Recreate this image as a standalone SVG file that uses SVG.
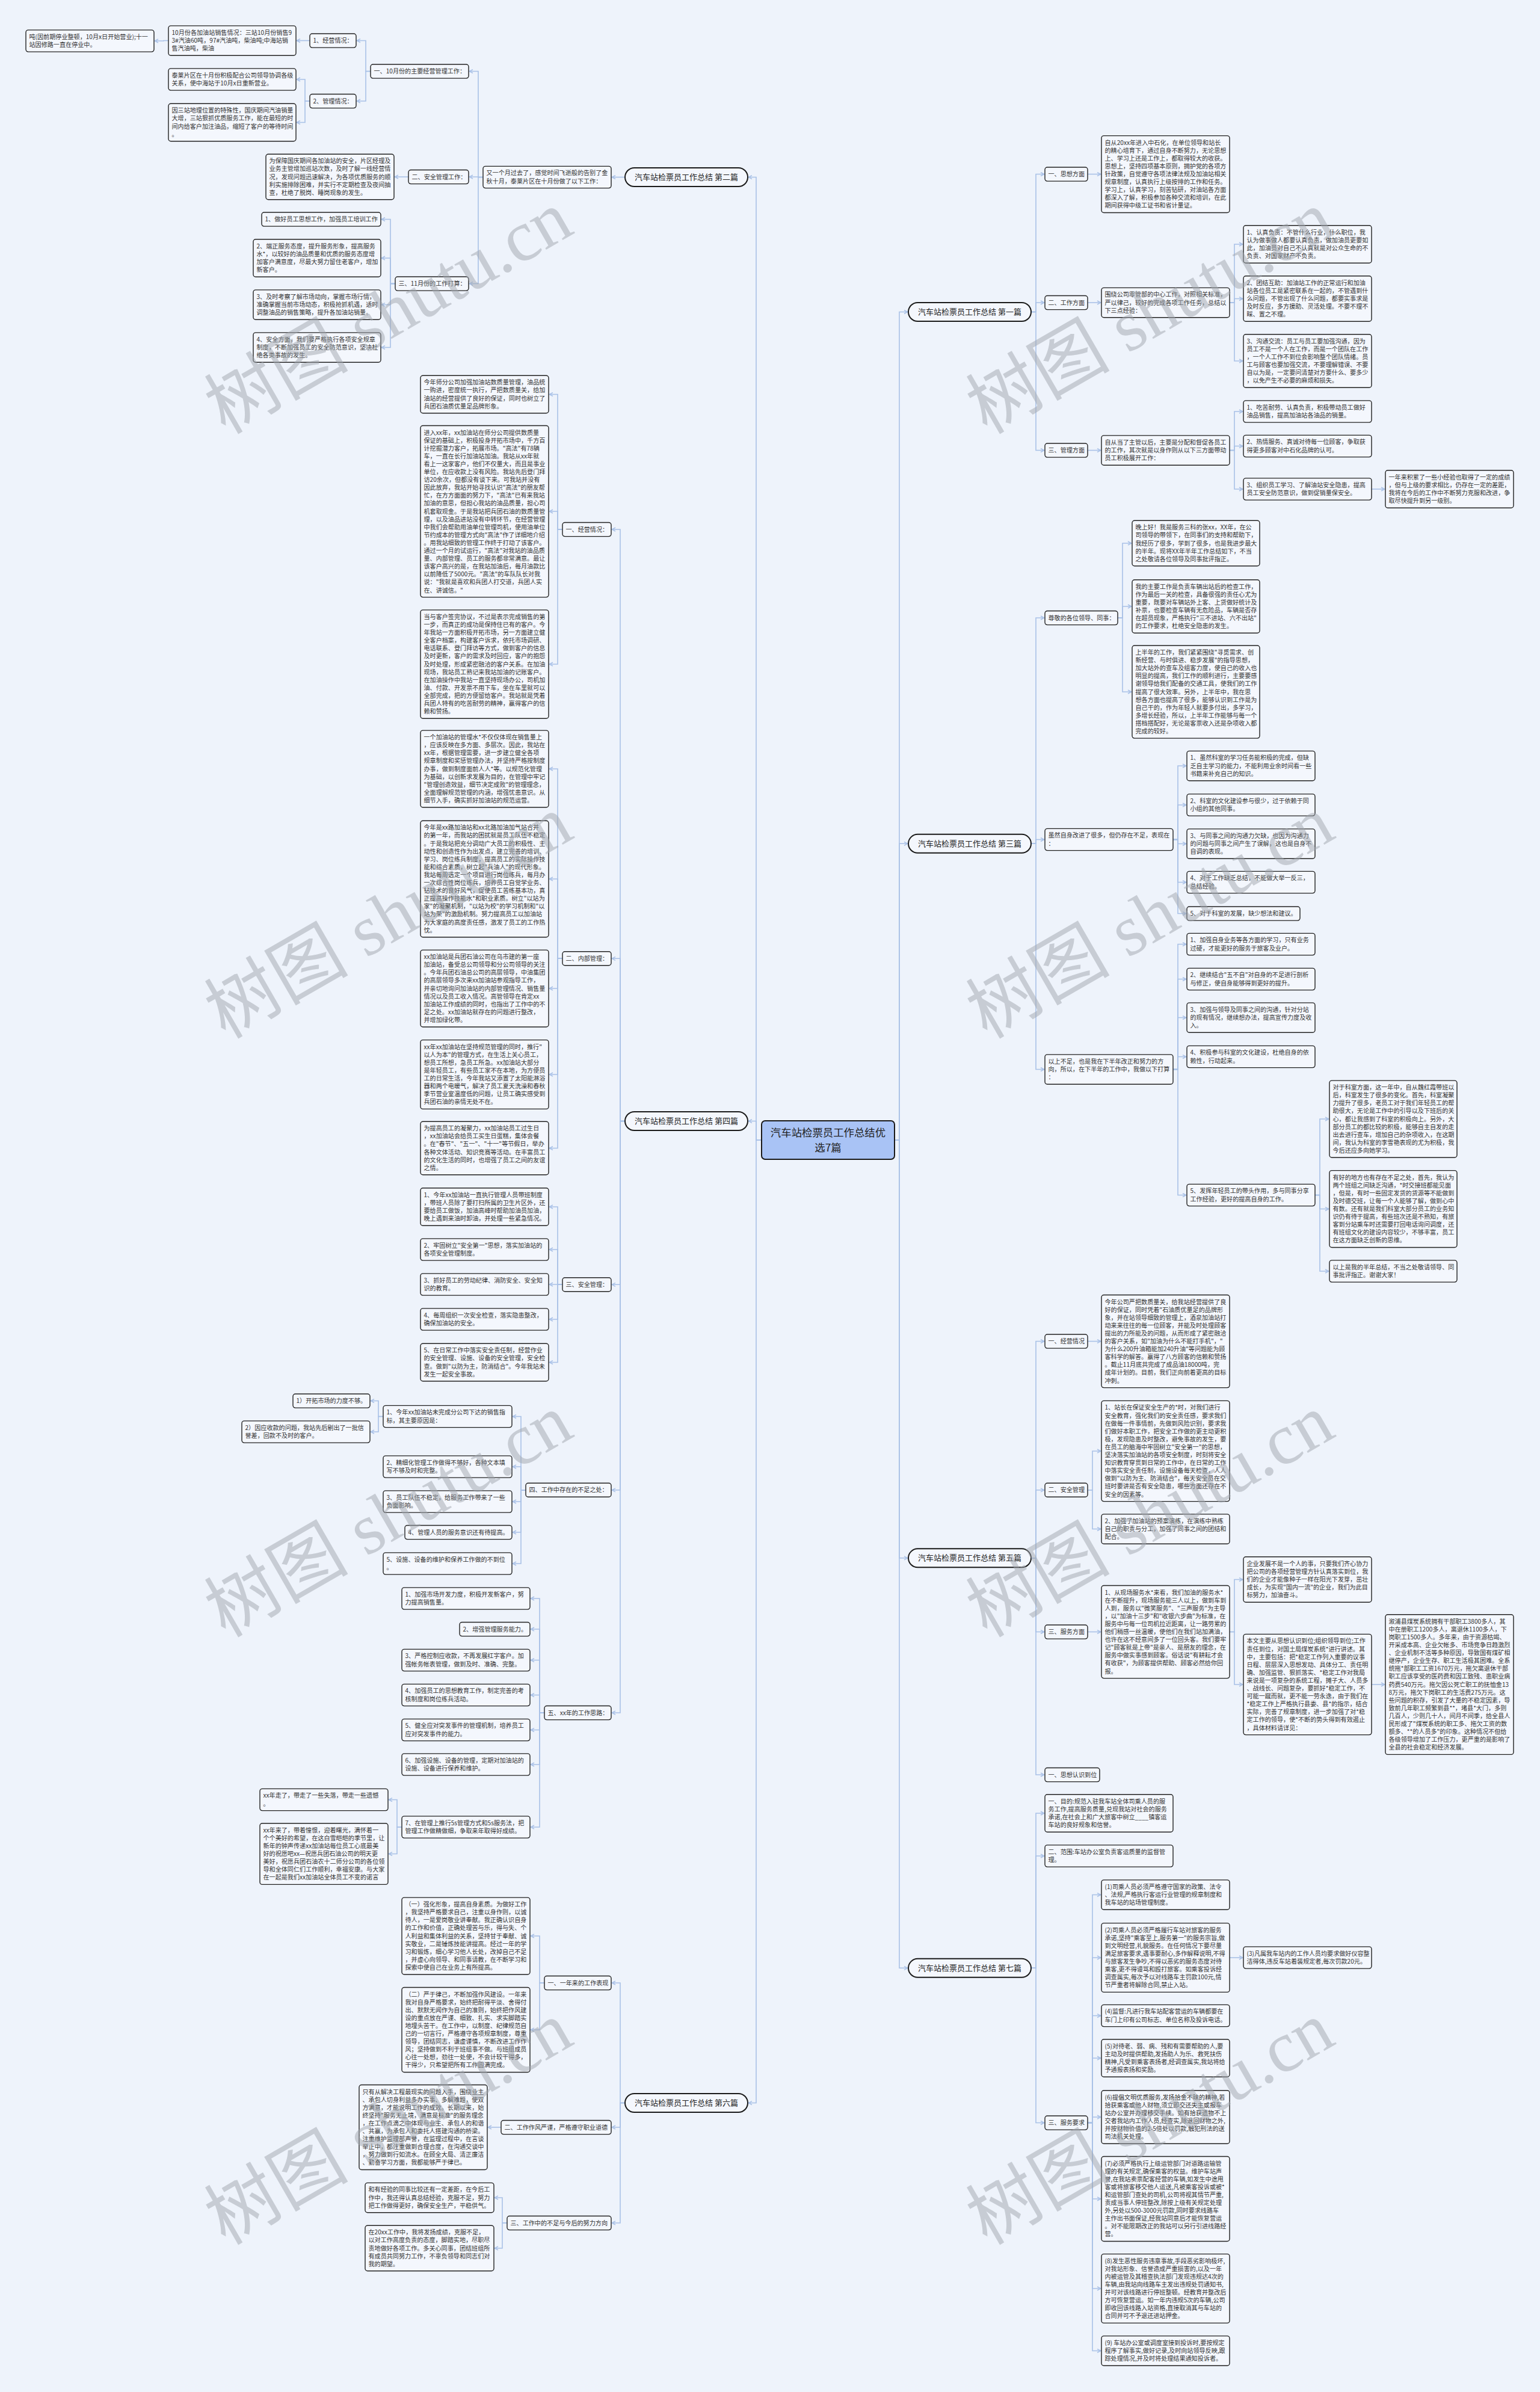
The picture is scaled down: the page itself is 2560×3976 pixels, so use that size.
<svg xmlns="http://www.w3.org/2000/svg" width="2560" height="3976" viewBox="0 0 2560 3976">
<style>
.bg{fill:#eef3fb}
.box{fill:#f4f7fd;stroke:#222;stroke-width:1.4;rx:4px}
.br{fill:#f4f7fd;stroke:#1a1a1a;stroke-width:2}
.ctr{fill:#a9c3f5;stroke:#1a1a1a;stroke-width:2;rx:6px}
.t{font-family:"Noto Sans CJK SC","Noto Sans",sans-serif;font-size:10.1px;fill:#333}
.bt{font-family:"Noto Sans CJK SC","Noto Sans",sans-serif;font-size:13px;fill:#222;text-anchor:middle}
.ct{font-family:"Noto Sans CJK SC","Noto Sans",sans-serif;font-size:17.4px;fill:#222;text-anchor:middle}
.c path{fill:none;stroke:#a9c1e7;stroke-width:1.6;marker-end:url(#ah)}
.wm{font-family:"Liberation Serif","Noto Sans CJK SC",serif;font-size:120px;fill:#a0a5ad;fill-opacity:0.5;text-anchor:middle}
</style>
<defs>
<marker id="ah" viewBox="0 0 8 8" markerWidth="8" markerHeight="8" refX="7" refY="4" orient="auto" markerUnits="userSpaceOnUse">
<path d="M1,1 L7,4 L1,7" fill="none" stroke="#a9c1e7" stroke-width="1.4"/>
</marker>
</defs>
<rect class="bg" x="0" y="0" width="2560" height="3976"/>

<g id="connectors" class="c">
<path d="M1266 1895H1257V294.5H1244"/>
<path d="M1266 1895H1257V1863.5H1244"/>
<path d="M1266 1895H1257V3495.5H1244"/>
<path d="M1487 1895H1495V518.5H1509"/>
<path d="M1487 1895H1495V1402.3H1509"/>
<path d="M1487 1895H1495V2589.8H1509"/>
<path d="M1487 1895H1495V3271.3H1509"/>
<path d="M1039 294.5H1017"/>
<path d="M803 294.5H795V118.5H780"/>
<path d="M803 294.5H795V294H780"/>
<path d="M803 294.5H795V471.5H780"/>
<path d="M616 118.5H608V67.5H593"/>
<path d="M616 118.5H608V168H593"/>
<path d="M515 67.5H493"/>
<path d="M280 67.5H272V68H257"/>
<path d="M515 168H507V132H493"/>
<path d="M515 168H507V203.5H493"/>
<path d="M679 294H656"/>
<path d="M657 471.5H649V364.5H634"/>
<path d="M657 471.5H649V429H634"/>
<path d="M657 471.5H649V506.5H634"/>
<path d="M657 471.5H649V577.5H634"/>
<path d="M1039 1863.5H1031V880H1017"/>
<path d="M1039 1863.5H1031V1593.3H1017"/>
<path d="M1039 1863.5H1031V2135.3H1017"/>
<path d="M1039 1863.5H1031V2476.8H1017"/>
<path d="M1039 1863.5H1031V2847H1017"/>
<path d="M935 880H927V655.5H913"/>
<path d="M935 880H927V850H913"/>
<path d="M935 880H927V1104H913"/>
<path d="M935 1593.3H927V1278H913"/>
<path d="M935 1593.3H927V1461H913"/>
<path d="M935 1593.3H927V1643H913"/>
<path d="M935 1593.3H927V1786H913"/>
<path d="M935 1593.3H927V1908.5H913"/>
<path d="M935 2135.3H927V2006H913"/>
<path d="M935 2135.3H927V2077H913"/>
<path d="M935 2135.3H927V2135H913"/>
<path d="M935 2135.3H927V2193H913"/>
<path d="M935 2135.3H927V2264.5H913"/>
<path d="M874 2476.8H866V2354.5H852"/>
<path d="M874 2476.8H866V2438H852"/>
<path d="M874 2476.8H866V2496H852"/>
<path d="M874 2476.8H866V2547H852"/>
<path d="M874 2476.8H866V2599H852"/>
<path d="M637 2354.5H629V2328.5H616"/>
<path d="M637 2354.5H629V2380H616"/>
<path d="M905 2847H897V2657H882"/>
<path d="M905 2847H897V2708H882"/>
<path d="M905 2847H897V2759.5H882"/>
<path d="M905 2847H897V2817.5H882"/>
<path d="M905 2847H897V2875.5H882"/>
<path d="M905 2847H897V2933H882"/>
<path d="M905 2847H897V3037H882"/>
<path d="M668 3037H660V2991.5H646"/>
<path d="M668 3037H660V3081.5H646"/>
<path d="M1039 3495.5H1031V3296H1017"/>
<path d="M1039 3495.5H1031V3536H1017"/>
<path d="M1039 3495.5H1031V3695H1017"/>
<path d="M905 3296H897V3218H882"/>
<path d="M905 3296H897V3374H882"/>
<path d="M833 3536H811"/>
<path d="M843 3695H835V3653H822"/>
<path d="M843 3695H835V3737H822"/>
<path d="M1714 518.5H1722V289.5H1736"/>
<path d="M1714 518.5H1722V503H1736"/>
<path d="M1714 518.5H1722V748.5H1736"/>
<path d="M1808 289.5H1830"/>
<path d="M1808 503H1830"/>
<path d="M2044 503H2052V406H2066"/>
<path d="M2044 503H2052V496.5H2066"/>
<path d="M2044 503H2052V600H2066"/>
<path d="M1808 748.5H1830"/>
<path d="M2044 748.5H2052V684H2066"/>
<path d="M2044 748.5H2052V741.5H2066"/>
<path d="M2044 748.5H2052V813H2066"/>
<path d="M2280 813H2302"/>
<path d="M1714 1402.3H1722V1027H1736"/>
<path d="M1714 1402.3H1722V1395.5H1736"/>
<path d="M1714 1402.3H1722V1777.5H1736"/>
<path d="M1858 1027H1866V903H1881"/>
<path d="M1858 1027H1866V1008H1881"/>
<path d="M1858 1027H1866V1150H1881"/>
<path d="M1950 1395.5H1958V1273H1972"/>
<path d="M1950 1395.5H1958V1338H1972"/>
<path d="M1950 1395.5H1958V1402.5H1972"/>
<path d="M1950 1395.5H1958V1466.5H1972"/>
<path d="M1950 1395.5H1958V1518.5H1972"/>
<path d="M1950 1777.5H1958V1569.5H1972"/>
<path d="M1950 1777.5H1958V1627.5H1972"/>
<path d="M1950 1777.5H1958V1691.5H1972"/>
<path d="M1950 1777.5H1958V1756.5H1972"/>
<path d="M1950 1777.5H1958V1986.5H1972"/>
<path d="M2186 1986.5H2194V1860H2209"/>
<path d="M2186 1986.5H2194V2009.5H2209"/>
<path d="M2186 1986.5H2194V2113H2209"/>
<path d="M1714 2589.8H1722V2229.5H1736"/>
<path d="M1714 2589.8H1722V2476.8H1736"/>
<path d="M1714 2589.8H1722V2712.5H1736"/>
<path d="M1714 2589.8H1722V2950H1736"/>
<path d="M1808 2229.5H1830"/>
<path d="M1808 2476.8H1816V2412H1830"/>
<path d="M1808 2476.8H1816V2541.5H1830"/>
<path d="M1808 2712.5H1830"/>
<path d="M2044 2712.5H2052V2625.5H2066"/>
<path d="M2044 2712.5H2052V2800H2066"/>
<path d="M2280 2800H2302"/>
<path d="M1714 3271.3H1722V3014H1736"/>
<path d="M1714 3271.3H1722V3085H1736"/>
<path d="M1714 3271.3H1722V3528.5H1736"/>
<path d="M1808 3528.5H1816V3149.5H1830"/>
<path d="M1808 3528.5H1816V3254H1830"/>
<path d="M1808 3528.5H1816V3350.5H1830"/>
<path d="M1808 3528.5H1816V3421H1830"/>
<path d="M1808 3528.5H1816V3519H1830"/>
<path d="M1808 3528.5H1816V3655H1830"/>
<path d="M1808 3528.5H1816V3804H1830"/>
<path d="M1808 3528.5H1816V3907.5H1830"/>
<path d="M2044 3254H2066"/>
</g>

<g id="center"><rect class="ctr" x="1266" y="1863" width="221" height="64"/><text class="ct" x="1376.5" y="1889">汽车站检票员工作总结优</text><text class="ct" x="1376.5" y="1914">选7篇</text></g>

<g id="b2"><rect class="br" x="1039" y="279" width="204" height="31" rx="15.5"/><text class="bt" x="1141" y="299">汽车站检票员工作总结 第二篇</text></g>
<g id="b4"><rect class="br" x="1039" y="1848" width="204" height="31" rx="15.5"/><text class="bt" x="1141" y="1868">汽车站检票员工作总结 第四篇</text></g>
<g id="b6"><rect class="br" x="1039" y="3480" width="204" height="31" rx="15.5"/><text class="bt" x="1141" y="3500">汽车站检票员工作总结 第六篇</text></g>
<g id="b1"><rect class="br" x="1510" y="503" width="204" height="31" rx="15.5"/><text class="bt" x="1612" y="523">汽车站检票员工作总结 第一篇</text></g>
<g id="b3"><rect class="br" x="1510" y="1386.8" width="204" height="31" rx="15.5"/><text class="bt" x="1612" y="1406.8">汽车站检票员工作总结 第三篇</text></g>
<g id="b5"><rect class="br" x="1510" y="2574.3" width="204" height="31" rx="15.5"/><text class="bt" x="1612" y="2594.3">汽车站检票员工作总结 第五篇</text></g>
<g id="b7"><rect class="br" x="1510" y="3255.8" width="204" height="31" rx="15.5"/><text class="bt" x="1612" y="3275.8">汽车站检票员工作总结 第七篇</text></g>

<g id="a1"><rect class="box" x="43" y="49.9" width="213" height="36.2"/><text class="t" x="48.5" y="64.9"><tspan x="48.5">吨(因前期停业整顿，10月x日开始营业);十一</tspan><tspan x="48.5" dy="13.1">站因修路一直在停业中。</tspan></text></g>
<g id="a2"><rect class="box" x="280" y="42.9" width="212" height="49.3"/><text class="t" x="285.5" y="57.9"><tspan x="285.5">10月份各加油站销售情况：三站10月份销售9</tspan><tspan x="285.5" dy="13.1">3#汽油60吨，97#汽油吨，柴油吨;中海站销</tspan><tspan x="285.5" dy="13.1">售汽油吨，柴油</tspan></text></g>
<g id="a3"><rect class="box" x="515" y="56" width="77" height="23.1"/><text class="t" x="520.5" y="71">1、经营情况：</text></g>
<g id="a4"><rect class="box" x="616" y="107" width="163" height="23.1"/><text class="t" x="621.5" y="122">一、10月份的主要经营管理工作：</text></g>
<g id="a5"><rect class="box" x="280" y="113.9" width="212" height="36.2"/><text class="t" x="285.5" y="128.9"><tspan x="285.5">泰莱片区在十月份积极配合公司领导协调各级</tspan><tspan x="285.5" dy="13.1">关系，使中海站于10月x日重新营业。</tspan></text></g>
<g id="a6"><rect class="box" x="515" y="156.5" width="77" height="23.1"/><text class="t" x="520.5" y="171.5">2、管理情况：</text></g>
<g id="a7"><rect class="box" x="280" y="172.3" width="212" height="62.4"/><text class="t" x="285.5" y="187.3"><tspan x="285.5">因三站地理位置的特殊性，国庆期间汽油销量</tspan><tspan x="285.5" dy="13.1">大增，三站狠抓优质服务工作，能在最短的时</tspan><tspan x="285.5" dy="13.1">间内给客户加注油品，缩短了客户的等待时间</tspan><tspan x="285.5" dy="13.1">。</tspan></text></g>
<g id="a8"><rect class="box" x="442" y="256.3" width="213" height="75.5"/><text class="t" x="447.5" y="271.3"><tspan x="447.5">为保障国庆期间各加油站的安全，片区经理及</tspan><tspan x="447.5" dy="13.1">业务主管增加巡站次数，及时了解一线经营情</tspan><tspan x="447.5" dy="13.1">况，发现问题迅速解决，为各项优质服务的顺</tspan><tspan x="447.5" dy="13.1">利实施排除困难，并实行不定期检查及夜间抽</tspan><tspan x="447.5" dy="13.1">查，杜绝了脱岗、睡岗现象的发生。</tspan></text></g>
<g id="a9"><rect class="box" x="679" y="282.5" width="100" height="23.1"/><text class="t" x="684.5" y="297.5">二、安全管理工作：</text></g>
<g id="n-you"><rect class="box" x="803" y="276.4" width="213" height="36.2"/><text class="t" x="808.5" y="291.4"><tspan x="808.5">又一个月过去了，感觉时间飞逝般的告别了金</tspan><tspan x="808.5" dy="13.1">秋十月，泰莱片区在十月份做了以下工作：</tspan></text></g>
<g id="a10"><rect class="box" x="435" y="353" width="198" height="23.1"/><text class="t" x="440.5" y="368">1、做好员工思想工作，加强员工培训工作</text></g>
<g id="a11"><rect class="box" x="421" y="397.8" width="212" height="62.4"/><text class="t" x="426.5" y="412.8"><tspan x="426.5">2、端正服务态度，提升服务形象，提高服务</tspan><tspan x="426.5" dy="13.1">水*，以较好的油品质量和优质的服务态度增</tspan><tspan x="426.5" dy="13.1">加客户满意度，尽最大努力留住老客户，增加</tspan><tspan x="426.5" dy="13.1">新客户。</tspan></text></g>
<g id="a12"><rect class="box" x="657" y="460" width="122" height="23.1"/><text class="t" x="662.5" y="475">三、11月份的工作打算：</text></g>
<g id="a13"><rect class="box" x="421" y="481.9" width="212" height="49.3"/><text class="t" x="426.5" y="496.9"><tspan x="426.5">3、及时考察了解市场动向，掌握市场行情，</tspan><tspan x="426.5" dy="13.1">准确掌握当前市场动态，积极抢抓机遇，适时</tspan><tspan x="426.5" dy="13.1">调整油品的销售策略，提升各加油站销量。</tspan></text></g>
<g id="a14"><rect class="box" x="421" y="552.9" width="212" height="49.3"/><text class="t" x="426.5" y="567.9"><tspan x="426.5">4、安全方面，我们要严格执行各项安全规章</tspan><tspan x="426.5" dy="13.1">制度，不断加强员工的安全防范意识，坚决杜</tspan><tspan x="426.5" dy="13.1">绝各类事故的发生。</tspan></text></g>

<g id="b4-1"><rect class="box" x="935" y="868.5" width="81" height="23.1"/><text class="t" x="940.5" y="883.5">一、经营情况：</text></g>
<g id="b4-2"><rect class="box" x="935" y="1581.7" width="81" height="23.1"/><text class="t" x="940.5" y="1596.7">二、内部管理：</text></g>
<g id="b4-3"><rect class="box" x="935" y="2123.7" width="81" height="23.1"/><text class="t" x="940.5" y="2138.7">三、安全管理：</text></g>
<g id="b4-4"><rect class="box" x="874" y="2465.2" width="142" height="23.1"/><text class="t" x="879.5" y="2480.2">四、工作中存在的不足之处：</text></g>
<g id="b4-5"><rect class="box" x="905" y="2835.5" width="111" height="23.1"/><text class="t" x="910.5" y="2850.5">五、xx年的工作思路：</text></g>

<g id="bb1"><rect class="box" x="699" y="624.3" width="213" height="62.4"/><text class="t" x="704.5" y="639.3"><tspan x="704.5">今年师分公司加强加油站数质量管理，油品统</tspan><tspan x="704.5" dy="13.1">一购进，密度统一执行，严把数质量关，给加</tspan><tspan x="704.5" dy="13.1">油站的经营提供了良好的保证，同时也树立了</tspan><tspan x="704.5" dy="13.1">兵团石油质优量足品牌形象。</tspan></text></g>
<g id="bb2"><rect class="box" x="699" y="707.5" width="213" height="285.1"/><text class="t" x="704.5" y="722.5"><tspan x="704.5">进入xx年，xx加油站在师分公司提供数质量</tspan><tspan x="704.5" dy="13.1">保证的基础上，积极投身开拓市场中，千方百</tspan><tspan x="704.5" dy="13.1">计挖掘潜力客户，拓展市场。"高法"有78辆</tspan><tspan x="704.5" dy="13.1">车，一直在长行加油站加油。我站从xx年就</tspan><tspan x="704.5" dy="13.1">看上一这家客户，他们不仅量大，而且是事业</tspan><tspan x="704.5" dy="13.1">单位，在应收款上没有风险。我站先后登门拜</tspan><tspan x="704.5" dy="13.1">访20余次，但都没有谈下来。可我站并没有</tspan><tspan x="704.5" dy="13.1">因此放弃，我站开始寻找认识"高法"的朋友帮</tspan><tspan x="704.5" dy="13.1">忙，在方方面面的努力下，"高法"已有来我站</tspan><tspan x="704.5" dy="13.1">加油的意思，但担心我站的油品质量，担心司</tspan><tspan x="704.5" dy="13.1">机套取现金。于是我站把兵团石油的数质量管</tspan><tspan x="704.5" dy="13.1">理，以及油品进站没有中转环节，在经营管理</tspan><tspan x="704.5" dy="13.1">中我们会帮助用油单位管理司机，使用油单位</tspan><tspan x="704.5" dy="13.1">节约成本的管理方式向"高法"作了详细地介绍</tspan><tspan x="704.5" dy="13.1">。用我站细致的管理工作终于打动了该客户。</tspan><tspan x="704.5" dy="13.1">通过一个月的试运行，"高法"对我站的油品质</tspan><tspan x="704.5" dy="13.1">量、内部管理、员工的服务都非常满意。最让</tspan><tspan x="704.5" dy="13.1">该客户高兴的是，在我站加油后，每月油款比</tspan><tspan x="704.5" dy="13.1">以前降低了5000元。"高法"的车队队长对我</tspan><tspan x="704.5" dy="13.1">说："我就是喜欢和兵团人打交道，兵团人实</tspan><tspan x="704.5" dy="13.1">在、讲诚信。"</tspan></text></g>
<g id="bb3"><rect class="box" x="699" y="1013.9" width="213" height="180.3"/><text class="t" x="704.5" y="1028.9"><tspan x="704.5">当与客户签完协议，不过是表示完成销售的第</tspan><tspan x="704.5" dy="13.1">一步，而真正的成功是保持住已有的客户。今</tspan><tspan x="704.5" dy="13.1">年我站一方面积极开拓市场，另一方面建立健</tspan><tspan x="704.5" dy="13.1">全客户档案，构建客户诉求，依托市场调研、</tspan><tspan x="704.5" dy="13.1">电话联系、登门拜访等方式，做到客户的信息</tspan><tspan x="704.5" dy="13.1">及时更新，客户的需求及时回应，客户的抱怨</tspan><tspan x="704.5" dy="13.1">及时处理，形成紧密融洽的客户关系。在加油</tspan><tspan x="704.5" dy="13.1">现场，我站员工熟记来我站加油的记账客户。</tspan><tspan x="704.5" dy="13.1">在加油操作中我站一直坚持现场办公，司机加</tspan><tspan x="704.5" dy="13.1">油、付款、开发票不用下车，坐在车里就可以</tspan><tspan x="704.5" dy="13.1">全部完成，把的方便留给客户。我站就是凭着</tspan><tspan x="704.5" dy="13.1">兵团人特有的吃苦耐劳的精神，赢得客户的信</tspan><tspan x="704.5" dy="13.1">赖和赞扬。</tspan></text></g>
<g id="bb4"><rect class="box" x="699" y="1214.1" width="213" height="127.9"/><text class="t" x="704.5" y="1229.1"><tspan x="704.5">一个加油站的管理水*不仅仅体现在销售量上</tspan><tspan x="704.5" dy="13.1">，应该反映在多方面、多层次。因此，我站在</tspan><tspan x="704.5" dy="13.1">xx年，根据管理需要，进一步建立健全各项</tspan><tspan x="704.5" dy="13.1">规章制度和奖惩管理办法，并坚持严格按制度</tspan><tspan x="704.5" dy="13.1">办事，做到制度面前人人*等。以规范化管理</tspan><tspan x="704.5" dy="13.1">为基础，以创新求发展为目的，在管理中牢记</tspan><tspan x="704.5" dy="13.1">"管理创造效益，细节决定成败"的管理理念，</tspan><tspan x="704.5" dy="13.1">全面理解规范管理的内涵，增强忧患意识。从</tspan><tspan x="704.5" dy="13.1">细节入手，确实抓好加油站的规范运营。</tspan></text></g>
<g id="bb5"><rect class="box" x="699" y="1364.3" width="213" height="193.4"/><text class="t" x="704.5" y="1379.3"><tspan x="704.5">今年是xx路加油站和xx北路加油加气站合并</tspan><tspan x="704.5" dy="13.1">的第一年，而我站的困扰就是员工队伍不稳定</tspan><tspan x="704.5" dy="13.1">。于是我站把充分调动广大员工的积极性、主</tspan><tspan x="704.5" dy="13.1">动性和创造性作为出发点，建立完善的培训、</tspan><tspan x="704.5" dy="13.1">学习、岗位练兵制度，提高员工的实际操作技</tspan><tspan x="704.5" dy="13.1">能和综合素质，树立起"兵油人"的现代形象。</tspan><tspan x="704.5" dy="13.1">我站每周选定一个项目进行岗位练兵，每月办</tspan><tspan x="704.5" dy="13.1">一次综合性岗位练兵，培养员工自觉学业务、</tspan><tspan x="704.5" dy="13.1">钻技术的良好风气，促使员工苦练基本功，真</tspan><tspan x="704.5" dy="13.1">正提高操作技能水*和职业素质。树立"以站为</tspan><tspan x="704.5" dy="13.1">家"的凝聚机制，"以站为校"的学习机制和"以</tspan><tspan x="704.5" dy="13.1">站为荣"的激励机制。努力提高员工以加油站</tspan><tspan x="704.5" dy="13.1">为大家庭的高度责任感，激发了员工的工作热</tspan><tspan x="704.5" dy="13.1">忱。</tspan></text></g>
<g id="bb6"><rect class="box" x="699" y="1579.1" width="213" height="127.9"/><text class="t" x="704.5" y="1594.1"><tspan x="704.5">xx加油站是兵团石油公司在乌市建的第一座</tspan><tspan x="704.5" dy="13.1">加油站，备受总公司领导和分公司领导的关注</tspan><tspan x="704.5" dy="13.1">。今年兵团石油总公司的高层领导，中油集团</tspan><tspan x="704.5" dy="13.1">的高层领导多次来xx加油站参观指导工作，</tspan><tspan x="704.5" dy="13.1">并亲切地询问加油站的内部管理情况、销售量</tspan><tspan x="704.5" dy="13.1">情况以及员工收入情况。高管领导在肯定xx</tspan><tspan x="704.5" dy="13.1">加油站工作成绩的同时，也指出了工作中的不</tspan><tspan x="704.5" dy="13.1">足之处。xx加油站就存在的问题进行整改，</tspan><tspan x="704.5" dy="13.1">并增加绿化带。</tspan></text></g>
<g id="bb7"><rect class="box" x="699" y="1728.6" width="213" height="114.8"/><text class="t" x="704.5" y="1743.6"><tspan x="704.5">xx年xx加油站在坚持规范管理的同时，推行"</tspan><tspan x="704.5" dy="13.1">以人为本"的管理方式，在生活上关心员工，</tspan><tspan x="704.5" dy="13.1">想员工所想，急员工所急。xx加油站大部分</tspan><tspan x="704.5" dy="13.1">是年轻员工，有些员工家不在本地，为方便员</tspan><tspan x="704.5" dy="13.1">工的日常生活，今年我站又添置了太阳能淋浴</tspan><tspan x="704.5" dy="13.1">器和两个电暖气，解决了员工夏天洗澡和春秋</tspan><tspan x="704.5" dy="13.1">季节营业室温度低的问题，让员工确实感受到</tspan><tspan x="704.5" dy="13.1">兵团石油的亲情无处不在。</tspan></text></g>
<g id="bb8"><rect class="box" x="699" y="1864.2" width="213" height="88.6"/><text class="t" x="704.5" y="1879.2"><tspan x="704.5">为提高员工的凝聚力，xx加油站员工过生日</tspan><tspan x="704.5" dy="13.1">，xx加油站会给员工买生日蛋糕，集体会餐</tspan><tspan x="704.5" dy="13.1">。在"春节"、"五一"、"十一"等节假日，举办</tspan><tspan x="704.5" dy="13.1">各种文体活动、知识竞赛等活动。在丰富员工</tspan><tspan x="704.5" dy="13.1">的文化生活的同时，也增强了员工之间的友谊</tspan><tspan x="704.5" dy="13.1">之情。</tspan></text></g>
<g id="c1"><rect class="box" x="699" y="1974.8" width="213" height="62.4"/><text class="t" x="704.5" y="1989.8"><tspan x="704.5">1、今年xx加油站一直执行管理人员带班制度</tspan><tspan x="704.5" dy="13.1">，带班人员除了要打扫所属的卫生片区外，还</tspan><tspan x="704.5" dy="13.1">要给员工做饭，加油高峰时帮助加油员加油，</tspan><tspan x="704.5" dy="13.1">晚上遇到来油时卸油，并处理一些紧急情况。</tspan></text></g>
<g id="c2"><rect class="box" x="699" y="2058.9" width="213" height="36.2"/><text class="t" x="704.5" y="2073.9"><tspan x="704.5">2、牢固树立"安全第一"思想，落实加油站的</tspan><tspan x="704.5" dy="13.1">各项安全管理制度。</tspan></text></g>
<g id="c3"><rect class="box" x="699" y="2116.9" width="213" height="36.2"/><text class="t" x="704.5" y="2131.9"><tspan x="704.5">3、抓好员工的劳动纪律、消防安全、安全知</tspan><tspan x="704.5" dy="13.1">识的教育。</tspan></text></g>
<g id="c4"><rect class="box" x="699" y="2174.9" width="213" height="36.2"/><text class="t" x="704.5" y="2189.9"><tspan x="704.5">4、每周组织一次安全检查，落实隐患整改，</tspan><tspan x="704.5" dy="13.1">确保加油站的安全。</tspan></text></g>
<g id="c5"><rect class="box" x="699" y="2233.3" width="213" height="62.4"/><text class="t" x="704.5" y="2248.3"><tspan x="704.5">5、在日常工作中落实安全责任制，经营作业</tspan><tspan x="704.5" dy="13.1">的安全管理、设施、设备的安全管理，安全检</tspan><tspan x="704.5" dy="13.1">查。做到"以防为主，防消结合"。今年我站未</tspan><tspan x="704.5" dy="13.1">发生一起安全事故。</tspan></text></g>
<g id="d1"><rect class="box" x="637" y="2336.4" width="214" height="36.2"/><text class="t" x="642.5" y="2351.4"><tspan x="642.5">1、今年xx加油站未完成分公司下达的销售指</tspan><tspan x="642.5" dy="13.1">标，其主要原因是：</tspan></text></g>
<g id="d2"><rect class="box" x="637" y="2419.9" width="214" height="36.2"/><text class="t" x="642.5" y="2434.9"><tspan x="642.5">2、精细化管理工作做得不够好，各种文本填</tspan><tspan x="642.5" dy="13.1">写不够及时和完整。</tspan></text></g>
<g id="d3"><rect class="box" x="637" y="2477.9" width="214" height="36.2"/><text class="t" x="642.5" y="2492.9"><tspan x="642.5">3、员工队伍不稳定，给服务工作带来了一些</tspan><tspan x="642.5" dy="13.1">负面影响。</tspan></text></g>
<g id="d4"><rect class="box" x="673" y="2535.5" width="178" height="23.1"/><text class="t" x="678.5" y="2550.5">4、管理人员的服务意识还有待提高。</text></g>
<g id="d5"><rect class="box" x="637" y="2580.9" width="214" height="36.2"/><text class="t" x="642.5" y="2595.9"><tspan x="642.5">5、设施、设备的维护和保养工作做的不到位</tspan><tspan x="642.5" dy="13.1">。</tspan></text></g>
<g id="dl1"><rect class="box" x="487" y="2317" width="128" height="23.1"/><text class="t" x="492.5" y="2332">1）开拓市场的力度不够。</text></g>
<g id="dl2"><rect class="box" x="402" y="2361.9" width="213" height="36.2"/><text class="t" x="407.5" y="2376.9"><tspan x="407.5">2）因应收款的问题，我站先后剔出了一批信</tspan><tspan x="407.5" dy="13.1">誉差，回款不及时的客户。</tspan></text></g>
<g id="e1"><rect class="box" x="668" y="2638.9" width="213" height="36.2"/><text class="t" x="673.5" y="2653.9"><tspan x="673.5">1、加强市场开发力度，积极开发新客户，努</tspan><tspan x="673.5" dy="13.1">力提高销售量。</tspan></text></g>
<g id="e2"><rect class="box" x="764" y="2696.5" width="117" height="23.1"/><text class="t" x="769.5" y="2711.5">2、增强管理服务能力。</text></g>
<g id="e3"><rect class="box" x="668" y="2741.4" width="213" height="36.2"/><text class="t" x="673.5" y="2756.4"><tspan x="673.5">3、严格控制应收款，不再发展红字客户。加</tspan><tspan x="673.5" dy="13.1">强帐务帐表管理，做到及时、准确、完整。</tspan></text></g>
<g id="e4"><rect class="box" x="668" y="2799.4" width="213" height="36.2"/><text class="t" x="673.5" y="2814.4"><tspan x="673.5">4、加强员工的思想教育工作，制定完善的考</tspan><tspan x="673.5" dy="13.1">核制度和岗位练兵活动。</tspan></text></g>
<g id="e5"><rect class="box" x="668" y="2857.4" width="213" height="36.2"/><text class="t" x="673.5" y="2872.4"><tspan x="673.5">5、健全应对突发事件的管理机制，培养员工</tspan><tspan x="673.5" dy="13.1">应对突发事件的能力。</tspan></text></g>
<g id="e6"><rect class="box" x="668" y="2914.9" width="213" height="36.2"/><text class="t" x="673.5" y="2929.9"><tspan x="673.5">6、加强设施、设备的管理，定期对加油站的</tspan><tspan x="673.5" dy="13.1">设施、设备进行保养和维护。</tspan></text></g>
<g id="e7"><rect class="box" x="668" y="3018.9" width="213" height="36.2"/><text class="t" x="673.5" y="3033.9"><tspan x="673.5">7、在管理上推行5s管理方式和5s服务法，把</tspan><tspan x="673.5" dy="13.1">管理工作做精做细，争取来年取得好成绩。</tspan></text></g>
<g id="e7l1"><rect class="box" x="432" y="2973.4" width="213" height="36.2"/><text class="t" x="437.5" y="2988.4"><tspan x="437.5">xx年走了，带走了一些失落，带走一些遗憾</tspan><tspan x="437.5" dy="13.1">。</tspan></text></g>
<g id="e7l2"><rect class="box" x="432" y="3030.7" width="213" height="101.7"/><text class="t" x="437.5" y="3045.7"><tspan x="437.5">xx年来了，带着憧憬，迎着曙光，满怀着一</tspan><tspan x="437.5" dy="13.1">个个美好的希望，在这白雪皑皑的季节里，让</tspan><tspan x="437.5" dy="13.1">新年的钟声传递xx加油站每位员工心底最美</tspan><tspan x="437.5" dy="13.1">好的祝愿吧xx—祝愿兵团石油公司的明天更</tspan><tspan x="437.5" dy="13.1">美好，祝愿兵团石油农十二师分公司的各位领</tspan><tspan x="437.5" dy="13.1">导和全体同仁们工作顺利，幸福安康。与大家</tspan><tspan x="437.5" dy="13.1">在一起是我们xx加油站全体员工不变的诺言</tspan></text></g>

<g id="b6-1"><rect class="box" x="905" y="3284.5" width="111" height="23.1"/><text class="t" x="910.5" y="3299.5">一、一年来的工作表现</text></g>
<g id="b6-2"><rect class="box" x="833" y="3524.5" width="183" height="23.1"/><text class="t" x="838.5" y="3539.5">二、工作作风严谨，严格遵守职业道德</text></g>
<g id="b6-3"><rect class="box" x="843" y="3683.5" width="173" height="23.1"/><text class="t" x="848.5" y="3698.5">三、工作中的不足与今后的努力方向</text></g>
<g id="f1"><rect class="box" x="668" y="3154.1" width="213" height="127.9"/><text class="t" x="673.5" y="3169.1"><tspan x="673.5">（一）强化形象，提高自身素质。为做好工作</tspan><tspan x="673.5" dy="13.1">，我坚持严格要求自己，注重以身作则，以诚</tspan><tspan x="673.5" dy="13.1">待人，一是爱岗敬业讲奉献。我正确认识自身</tspan><tspan x="673.5" dy="13.1">的工作和价值，正确处理苦与乐，得与失、个</tspan><tspan x="673.5" dy="13.1">人利益和集体利益的关系，坚持甘于奉献、诚</tspan><tspan x="673.5" dy="13.1">实敬业，二是锤炼技能讲提高。经过一年的学</tspan><tspan x="673.5" dy="13.1">习和锻炼，细心学习他人长处，改掉自己不足</tspan><tspan x="673.5" dy="13.1">，并虚心向领导、和同事请教，在不断学习和</tspan><tspan x="673.5" dy="13.1">探索中使自己在业务上有所提高。</tspan></text></g>
<g id="f2"><rect class="box" x="668" y="3303.5" width="213" height="141"/><text class="t" x="673.5" y="3318.5"><tspan x="673.5">（二）严于律己，不断加强作风建设。一年来</tspan><tspan x="673.5" dy="13.1">我对自身严格要求，始终把耐得平淡、舍得付</tspan><tspan x="673.5" dy="13.1">出、默默无闻作为自己的准则，始终把作风建</tspan><tspan x="673.5" dy="13.1">设的重点放在严谨、细致、扎实、求实脚踏实</tspan><tspan x="673.5" dy="13.1">地埋头苦干。在工作中，以制度、纪律规范自</tspan><tspan x="673.5" dy="13.1">己的一切言行，严格遵守各项规章制度，尊重</tspan><tspan x="673.5" dy="13.1">领导，团结同志，谦虚谨慎，不断改进工作作</tspan><tspan x="673.5" dy="13.1">风；坚持做到不利于班组事不做。与班组成员</tspan><tspan x="673.5" dy="13.1">心往一处想，劲往一处使，不会计较干得多，</tspan><tspan x="673.5" dy="13.1">干得少，只希望把所有工作圆满完成。</tspan></text></g>
<g id="g1"><rect class="box" x="597" y="3465.5" width="213" height="141"/><text class="t" x="602.5" y="3480.5"><tspan x="602.5">只有从解决工程最现实的问题入手，围绕业主</tspan><tspan x="602.5" dy="13.1">、承包人切身利益多办实事、多解难题，使双</tspan><tspan x="602.5" dy="13.1">方满意，才能说明工作的成效。长期以来，始</tspan><tspan x="602.5" dy="13.1">终坚持"服务无止境，满意是标准"的服务理念</tspan><tspan x="602.5" dy="13.1">，在工作点滴之中体现与业主、承包人的和谐</tspan><tspan x="602.5" dy="13.1">、共赢，为承包人和委托人搭建沟通的桥梁。</tspan><tspan x="602.5" dy="13.1">注重维护监理部声誉，在监理过程中，在言谈</tspan><tspan x="602.5" dy="13.1">举止中，都注重做到合理合度，在沟通交谈中</tspan><tspan x="602.5" dy="13.1">，努力做到行如流水。在顾全大局、清正廉洁</tspan><tspan x="602.5" dy="13.1">、勤奋学习方面，我都能够严于律已。</tspan></text></g>
<g id="h1"><rect class="box" x="607" y="3628.4" width="214" height="49.3"/><text class="t" x="612.5" y="3643.4"><tspan x="612.5">和有经验的同事比较还有一定差距，在今后工</tspan><tspan x="612.5" dy="13.1">作中，我还得认真总结经验，克服不足，努力</tspan><tspan x="612.5" dy="13.1">把工作做得更好，确保安全生产，平稳供气。</tspan></text></g>
<g id="h2"><rect class="box" x="607" y="3699.3" width="214" height="75.5"/><text class="t" x="612.5" y="3714.3"><tspan x="612.5">在20xx工作中，我将发扬成绩，克服不足，</tspan><tspan x="612.5" dy="13.1">以对工作高度负责的态度，脚踏实地，尽职尽</tspan><tspan x="612.5" dy="13.1">责地做好各项工作。多关心同事，团结班组所</tspan><tspan x="612.5" dy="13.1">有成员共同努力工作，不辜负领导和同志们对</tspan><tspan x="612.5" dy="13.1">我的期望。</tspan></text></g>

<g id="r1-1"><rect class="box" x="1737" y="278" width="71" height="23.1"/><text class="t" x="1742.5" y="293">一、思想方面</text></g>
<g id="r1-2"><rect class="box" x="1737" y="491.5" width="71" height="23.1"/><text class="t" x="1742.5" y="506.5">二、工作方面</text></g>
<g id="r1-3"><rect class="box" x="1737" y="737" width="71" height="23.1"/><text class="t" x="1742.5" y="752">三、管理方面</text></g>
<g id="p1"><rect class="box" x="1831" y="225.6" width="213" height="127.9"/><text class="t" x="1836.5" y="240.6"><tspan x="1836.5">自从20xx年进入中石化，在单位领导和站长</tspan><tspan x="1836.5" dy="13.1">的精心培育下，通过自身不断努力，无论思想</tspan><tspan x="1836.5" dy="13.1">上、学习上还是工作上，都取得较大的收获。</tspan><tspan x="1836.5" dy="13.1">思想上，坚持四项基本原则，拥护党的各项方</tspan><tspan x="1836.5" dy="13.1">针政策，自觉遵守各项法律法规及加油站相关</tspan><tspan x="1836.5" dy="13.1">规章制度，认真执行上级按排的工作和任务。</tspan><tspan x="1836.5" dy="13.1">学习上，认真学习，刻苦钻研，对油站各方面</tspan><tspan x="1836.5" dy="13.1">都深入了解，积极参加各种交流和培训，在此</tspan><tspan x="1836.5" dy="13.1">期间获得中级工证书和省计量证。</tspan></text></g>
<g id="p2"><rect class="box" x="1831" y="478.4" width="213" height="49.3"/><text class="t" x="1836.5" y="493.4"><tspan x="1836.5">围绕公司零管部的中心工作，对照相关标准，</tspan><tspan x="1836.5" dy="13.1">严以律己，较好的完成各项工作任务，总结以</tspan><tspan x="1836.5" dy="13.1">下三点经验：</tspan></text></g>
<g id="p2a"><rect class="box" x="2067" y="374.8" width="213" height="62.4"/><text class="t" x="2072.5" y="389.8"><tspan x="2072.5">1、认真负责：不管什么行业，什么职位，我</tspan><tspan x="2072.5" dy="13.1">认为做事做人都要认真负责，做加油员更要如</tspan><tspan x="2072.5" dy="13.1">此，加油员对自己不认真就是对公众生命的不</tspan><tspan x="2072.5" dy="13.1">负责、对国家财产不负责。</tspan></text></g>
<g id="p2b"><rect class="box" x="2067" y="458.8" width="213" height="75.5"/><text class="t" x="2072.5" y="473.8"><tspan x="2072.5">2、团结互助：加油站工作的正常运行和加油</tspan><tspan x="2072.5" dy="13.1">站各位员工是紧密联系在一起的，不管遇到什</tspan><tspan x="2072.5" dy="13.1">么问题，不管出现了什么问题，都要实事求是</tspan><tspan x="2072.5" dy="13.1">及时反应，多方援助、灵活处理。不要不理不</tspan><tspan x="2072.5" dy="13.1">睬、置之不理。</tspan></text></g>
<g id="p2c"><rect class="box" x="2067" y="555.7" width="213" height="88.6"/><text class="t" x="2072.5" y="570.7"><tspan x="2072.5">3、沟通交流：员工与员工要加强沟通，因为</tspan><tspan x="2072.5" dy="13.1">员工不是一个人在工作，而是一个团队在工作</tspan><tspan x="2072.5" dy="13.1">，一个人工作不到位会影响整个团队情绪。员</tspan><tspan x="2072.5" dy="13.1">工与顾客也要加强交流，不要理解错误、不要</tspan><tspan x="2072.5" dy="13.1">自以为是，一定要问清楚对方要什么、要多少</tspan><tspan x="2072.5" dy="13.1">，以免产生不必要的麻烦和损失。</tspan></text></g>
<g id="p3"><rect class="box" x="1831" y="723.9" width="213" height="49.3"/><text class="t" x="1836.5" y="738.9"><tspan x="1836.5">自从当了主管以后，主要是分配和督促各员工</tspan><tspan x="1836.5" dy="13.1">的工作，其次就是以身作则从以下三方面带动</tspan><tspan x="1836.5" dy="13.1">员工积极展开工作：</tspan></text></g>
<g id="p3a"><rect class="box" x="2067" y="665.9" width="213" height="36.2"/><text class="t" x="2072.5" y="680.9"><tspan x="2072.5">1、吃苦耐劳、认真负责，积极带动员工做好</tspan><tspan x="2072.5" dy="13.1">油品销售，提高加油站各油品的销量。</tspan></text></g>
<g id="p3b"><rect class="box" x="2067" y="723.4" width="213" height="36.2"/><text class="t" x="2072.5" y="738.4"><tspan x="2072.5">2、热情服务、真诚对待每一位顾客，争取获</tspan><tspan x="2072.5" dy="13.1">得更多顾客对中石化品牌的认可。</tspan></text></g>
<g id="p3c"><rect class="box" x="2067" y="794.9" width="213" height="36.2"/><text class="t" x="2072.5" y="809.9"><tspan x="2072.5">3、组织员工学习、了解油站安全隐患，提高</tspan><tspan x="2072.5" dy="13.1">员工安全防范意识，做到促销量保安全。</tspan></text></g>
<g id="p3d"><rect class="box" x="2303" y="781.8" width="213" height="62.4"/><text class="t" x="2308.5" y="796.8"><tspan x="2308.5">一年来积累了一些小经验也取得了一定的成绩</tspan><tspan x="2308.5" dy="13.1">，但与上级的要求相比，仍存在一定的差距，</tspan><tspan x="2308.5" dy="13.1">我将在今后的工作中不断努力克服和改进，争</tspan><tspan x="2308.5" dy="13.1">取尽快提升到另一级别。</tspan></text></g>

<g id="r3-1"><rect class="box" x="1737" y="1015.5" width="121" height="23.1"/><text class="t" x="1742.5" y="1030.5">尊敬的各位领导、同事：</text></g>
<g id="q1"><rect class="box" x="1882" y="865.3" width="212" height="75.5"/><text class="t" x="1887.5" y="880.3"><tspan x="1887.5">晚上好！我是服务三科的张xx，XX年，在公</tspan><tspan x="1887.5" dy="13.1">司领导的带领下，在同事们的支持和帮助下，</tspan><tspan x="1887.5" dy="13.1">我经历了很多，学到了很多，也是我进步最大</tspan><tspan x="1887.5" dy="13.1">的半年。现将XX年半年工作总结如下，不当</tspan><tspan x="1887.5" dy="13.1">之处敬请各位领导及同事批评指正。</tspan></text></g>
<g id="q2"><rect class="box" x="1882" y="963.7" width="212" height="88.6"/><text class="t" x="1887.5" y="978.7"><tspan x="1887.5">我的主要工作是负责车辆出站后的检查工作，</tspan><tspan x="1887.5" dy="13.1">作为最后一关的检查，具备很强的责任心尤为</tspan><tspan x="1887.5" dy="13.1">重要，既要对车辆站外上客、上货做好统计及</tspan><tspan x="1887.5" dy="13.1">补票，也要检查车辆有无危险品，车辆是否存</tspan><tspan x="1887.5" dy="13.1">在超员现象，严格执行"三不进站、六不出站"</tspan><tspan x="1887.5" dy="13.1">的工作要求，杜绝安全隐患的发生。</tspan></text></g>
<g id="q3"><rect class="box" x="1882" y="1073" width="212" height="154.1"/><text class="t" x="1887.5" y="1088"><tspan x="1887.5">上半年的工作，我们紧紧围绕"寻觅需求、创</tspan><tspan x="1887.5" dy="13.1">新经营、与时俱进、稳步发展"的指导思想，</tspan><tspan x="1887.5" dy="13.1">加大站外的查车及组客力度，使自己的收入也</tspan><tspan x="1887.5" dy="13.1">明显的提高，我们工作的顺利进行，主要要感</tspan><tspan x="1887.5" dy="13.1">谢领导给我们配备的交通工具，使我们的工作</tspan><tspan x="1887.5" dy="13.1">提高了很大效率。另外，上半年中，我在思</tspan><tspan x="1887.5" dy="13.1">想各方面也提高了很多，能够认识到工作是为</tspan><tspan x="1887.5" dy="13.1">自己干的，作为年轻人就要多付出，多学习，</tspan><tspan x="1887.5" dy="13.1">多增长经验，所以，上半年工作能够与每一个</tspan><tspan x="1887.5" dy="13.1">搭档搭配好，无论是客票收入还是杂项收入都</tspan><tspan x="1887.5" dy="13.1">完成的较好。</tspan></text></g>
<g id="r3-2"><rect class="box" x="1737" y="1377.4" width="213" height="36.2"/><text class="t" x="1742.5" y="1392.4"><tspan x="1742.5">虽然自身改进了很多，但仍存在不足，表现在</tspan><tspan x="1742.5" dy="13.1">：</tspan></text></g>
<g id="rx1"><rect class="box" x="1973" y="1248.4" width="213" height="49.3"/><text class="t" x="1978.5" y="1263.4"><tspan x="1978.5">1、虽然科室的学习任务能积极的完成，但缺</tspan><tspan x="1978.5" dy="13.1">乏自主学习的能力，不能利用业余时间看一些</tspan><tspan x="1978.5" dy="13.1">书籍来补充自己的知识。</tspan></text></g>
<g id="rx2"><rect class="box" x="1973" y="1319.9" width="213" height="36.2"/><text class="t" x="1978.5" y="1334.9"><tspan x="1978.5">2、科室的文化建设参与很少，过于依赖于同</tspan><tspan x="1978.5" dy="13.1">小组的其他同事。</tspan></text></g>
<g id="rx3"><rect class="box" x="1973" y="1377.9" width="213" height="49.3"/><text class="t" x="1978.5" y="1392.9"><tspan x="1978.5">3、与同事之间的沟通力欠缺，也因为沟通力</tspan><tspan x="1978.5" dy="13.1">的问题与同事之间产生了误解，这也是自身不</tspan><tspan x="1978.5" dy="13.1">自调的表现。</tspan></text></g>
<g id="rx4"><rect class="box" x="1973" y="1448.4" width="213" height="36.2"/><text class="t" x="1978.5" y="1463.4"><tspan x="1978.5">4、对于工作缺乏总结，不能做大举一反三，</tspan><tspan x="1978.5" dy="13.1">总结经验。</tspan></text></g>
<g id="rx5"><rect class="box" x="1973" y="1507" width="188" height="23.1"/><text class="t" x="1978.5" y="1522">5、对于科室的发展，缺少想法和建议。</text></g>
<g id="r3-3"><rect class="box" x="1737" y="1752.9" width="213" height="49.3"/><text class="t" x="1742.5" y="1767.9"><tspan x="1742.5">以上不足，也是我在下半年改正和努力的方</tspan><tspan x="1742.5" dy="13.1">向，所以，在下半年的工作中，我做以下打算</tspan><tspan x="1742.5" dy="13.1">：</tspan></text></g>
<g id="s1"><rect class="box" x="1973" y="1551.4" width="213" height="36.2"/><text class="t" x="1978.5" y="1566.4"><tspan x="1978.5">1、加强自身业务等各方面的学习，只有业务</tspan><tspan x="1978.5" dy="13.1">过硬，才能更好的服务于旅客及业户。</tspan></text></g>
<g id="s2"><rect class="box" x="1973" y="1609.4" width="213" height="36.2"/><text class="t" x="1978.5" y="1624.4"><tspan x="1978.5">2、继续结合"五不自"对自身的不足进行剖析</tspan><tspan x="1978.5" dy="13.1">与修正，使自身能够得到更好的提升。</tspan></text></g>
<g id="s3"><rect class="box" x="1973" y="1666.9" width="213" height="49.3"/><text class="t" x="1978.5" y="1681.9"><tspan x="1978.5">3、加强与领导及同事之间的沟通，针对分站</tspan><tspan x="1978.5" dy="13.1">的现有情况，继续想办法，提高宣传力度及收</tspan><tspan x="1978.5" dy="13.1">入。</tspan></text></g>
<g id="s4"><rect class="box" x="1973" y="1738.4" width="213" height="36.2"/><text class="t" x="1978.5" y="1753.4"><tspan x="1978.5">4、积极参与科室的文化建设，杜绝自身的依</tspan><tspan x="1978.5" dy="13.1">赖性，行动起来。</tspan></text></g>
<g id="s5"><rect class="box" x="1973" y="1968.4" width="213" height="36.2"/><text class="t" x="1978.5" y="1983.4"><tspan x="1978.5">5、发挥年轻员工的带头作用，多与同事分享</tspan><tspan x="1978.5" dy="13.1">工作经验，更好的提高自身的工作。</tspan></text></g>
<g id="t1"><rect class="box" x="2210" y="1796.1" width="212" height="127.9"/><text class="t" x="2215.5" y="1811.1"><tspan x="2215.5">对于科室方面，这一年中，自从魏红霞带班以</tspan><tspan x="2215.5" dy="13.1">后，科室发生了很多的变化。首先，科室凝聚</tspan><tspan x="2215.5" dy="13.1">力提升了很多，老员工对于我们年轻员工的帮</tspan><tspan x="2215.5" dy="13.1">助很大，无论是工作中的引导以及下班后的关</tspan><tspan x="2215.5" dy="13.1">心，都让我感到了科室的积极向上。另外，大</tspan><tspan x="2215.5" dy="13.1">部分员工的都比较的积极，能够自主自发的走</tspan><tspan x="2215.5" dy="13.1">出去进行查车，增加自己的杂项收入，在这期</tspan><tspan x="2215.5" dy="13.1">间，我认为科室的李雪艳表现的尤为积极，我</tspan><tspan x="2215.5" dy="13.1">今后还应多向她学习。</tspan></text></g>
<g id="t2"><rect class="box" x="2210" y="1945.6" width="212" height="127.9"/><text class="t" x="2215.5" y="1960.6"><tspan x="2215.5">有好的地方也有存在不足之处，首先，我认为</tspan><tspan x="2215.5" dy="13.1">两个班组之间缺乏沟通，*时交接班都能见面</tspan><tspan x="2215.5" dy="13.1">，但是，有时一些固定发货的货源等不能做到</tspan><tspan x="2215.5" dy="13.1">及时德交班，让每一个人能够了解，做到心中</tspan><tspan x="2215.5" dy="13.1">有数。还有就是我们科室大部分员工的业务知</tspan><tspan x="2215.5" dy="13.1">识仍有待于提高，有些班次还是不熟知，有旅</tspan><tspan x="2215.5" dy="13.1">客到分站乘车时还需要打回电话询问调度，还</tspan><tspan x="2215.5" dy="13.1">有班组文化的建设内容较少，不够丰富，员工</tspan><tspan x="2215.5" dy="13.1">在这方面缺乏创新的思维。</tspan></text></g>
<g id="t3"><rect class="box" x="2210" y="2094.9" width="212" height="36.2"/><text class="t" x="2215.5" y="2109.9"><tspan x="2215.5">以上是我的半年总结，不当之处敬请领导、同</tspan><tspan x="2215.5" dy="13.1">事批评指正。谢谢大家！</tspan></text></g>

<g id="r5-1"><rect class="box" x="1737" y="2218" width="71" height="23.1"/><text class="t" x="1742.5" y="2233">一、经营情况</text></g>
<g id="r5-2"><rect class="box" x="1737" y="2465.2" width="71" height="23.1"/><text class="t" x="1742.5" y="2480.2">二、安全管理</text></g>
<g id="r5-3"><rect class="box" x="1737" y="2701" width="71" height="23.1"/><text class="t" x="1742.5" y="2716">三、服务方面</text></g>
<g id="r5-4"><rect class="box" x="1737" y="2938.5" width="91" height="23.1"/><text class="t" x="1742.5" y="2953.5">一、思想认识到位</text></g>
<g id="u1"><rect class="box" x="1831" y="2152.5" width="213" height="154.1"/><text class="t" x="1836.5" y="2167.5"><tspan x="1836.5">今年公司严把数质量关，给我站经营提供了良</tspan><tspan x="1836.5" dy="13.1">好的保证，同时凭着"石油质优量足的品牌形</tspan><tspan x="1836.5" dy="13.1">象，并在站领导细致的管理上，酒泉加油站打</tspan><tspan x="1836.5" dy="13.1">动来来往往的每一位顾客，并能及时处理顾客</tspan><tspan x="1836.5" dy="13.1">提出的力所能及的问题，从而形成了紧密融洽</tspan><tspan x="1836.5" dy="13.1">的客户关系，如"加油为什么不能打手机"，"</tspan><tspan x="1836.5" dy="13.1">为什么200升油箱能加240升油"等问题能为顾</tspan><tspan x="1836.5" dy="13.1">客科学的解答。赢得了八方顾客的信赖和赞扬</tspan><tspan x="1836.5" dy="13.1">。截止11月底共完成了成品油18000吨，完</tspan><tspan x="1836.5" dy="13.1">成年计划的。目前，我们正向前着更高的目标</tspan><tspan x="1836.5" dy="13.1">冲刺。</tspan></text></g>
<g id="v1"><rect class="box" x="1831" y="2328.4" width="213" height="167.2"/><text class="t" x="1836.5" y="2343.4"><tspan x="1836.5">1、站长在保证安全生产的*时，对我们进行</tspan><tspan x="1836.5" dy="13.1">安全教育，强化我们的安全责任感，要求我们</tspan><tspan x="1836.5" dy="13.1">在做每一件事情前，先做到风险识别，要求我</tspan><tspan x="1836.5" dy="13.1">们做好本职工作，把安全工作做的更主动更积</tspan><tspan x="1836.5" dy="13.1">极，发现隐患及时整改，避免事故的发生，要</tspan><tspan x="1836.5" dy="13.1">在员工的脑海中牢固树立"安全第一"的思想，</tspan><tspan x="1836.5" dy="13.1">坚决落实加油站的各项安全制度，时刻将安全</tspan><tspan x="1836.5" dy="13.1">知识教育穿贯到日常的工作中，在日常的工作</tspan><tspan x="1836.5" dy="13.1">中落实安全责任制，设施设备每天检查，人人</tspan><tspan x="1836.5" dy="13.1">做到"以防为主、防消结合"，每天安全员在交</tspan><tspan x="1836.5" dy="13.1">班时要讲是否有安全隐患，哪些方面还存在不</tspan><tspan x="1836.5" dy="13.1">安全的因素等。</tspan></text></g>
<g id="v2"><rect class="box" x="1831" y="2516.9" width="213" height="49.3"/><text class="t" x="1836.5" y="2531.9"><tspan x="1836.5">2、加强了加油站的预案演练，在演练中熟练</tspan><tspan x="1836.5" dy="13.1">自己的职责与分工，加强了同事之间的团结和</tspan><tspan x="1836.5" dy="13.1">配合。</tspan></text></g>
<g id="w1"><rect class="box" x="1831" y="2635.5" width="213" height="154.1"/><text class="t" x="1836.5" y="2650.5"><tspan x="1836.5">1、从现场服务水*来看，我们加油的服务水*</tspan><tspan x="1836.5" dy="13.1">在不断提升，现场服务能三人以上，做到车到</tspan><tspan x="1836.5" dy="13.1">人到，服务以"微笑服务"、"三声服务"为主导</tspan><tspan x="1836.5" dy="13.1">，以"加油十三步"和"收银六步曲"为标准，在</tspan><tspan x="1836.5" dy="13.1">服务中与每一位司机拉近距离，让一路劳累的</tspan><tspan x="1836.5" dy="13.1">他们稍感一丝温暖，使他们在我们站加满油，</tspan><tspan x="1836.5" dy="13.1">也许在这不经意间多了一位回头客。我们要牢</tspan><tspan x="1836.5" dy="13.1">记"顾客就是上帝"是亲人、是朋友的理念，在</tspan><tspan x="1836.5" dy="13.1">服务中做实事感到顾客。俗话说"有耕耘才会</tspan><tspan x="1836.5" dy="13.1">有收获"，为顾客提供帮助、顾客必然给你回</tspan><tspan x="1836.5" dy="13.1">报。</tspan></text></g>
<g id="w2a"><rect class="box" x="2067" y="2587.8" width="213" height="75.5"/><text class="t" x="2072.5" y="2602.8"><tspan x="2072.5">企业发展不是一个人的事，只要我们齐心协力</tspan><tspan x="2072.5" dy="13.1">把公司的各项经营管理方针认真落实到位，我</tspan><tspan x="2072.5" dy="13.1">们的企业才能像种子一样在阳光下发芽，茁壮</tspan><tspan x="2072.5" dy="13.1">成长，为实现"国内一流"的企业，我们为此目</tspan><tspan x="2072.5" dy="13.1">标努力，加油奋斗。</tspan></text></g>
<g id="w2b"><rect class="box" x="2067" y="2716.4" width="213" height="167.2"/><text class="t" x="2072.5" y="2731.4"><tspan x="2072.5">本文主要从思想认识到位;组织领导到位;工作</tspan><tspan x="2072.5" dy="13.1">责任到位，对国土局煤炭系统*进行讲述。其</tspan><tspan x="2072.5" dy="13.1">中，主要包括：把*稳定工作列入重要的议事</tspan><tspan x="2072.5" dy="13.1">日程、层层深入思想发动、具体分工、责任明</tspan><tspan x="2072.5" dy="13.1">确、加强监管、狠抓落实、*稳定工作对我局</tspan><tspan x="2072.5" dy="13.1">来说是一项复杂的系统工程，摊子大、人员多</tspan><tspan x="2072.5" dy="13.1">、战线长、问题复杂，要抓好*稳定工作，不</tspan><tspan x="2072.5" dy="13.1">可能一蹴而就，更不能一劳永逸，由于我们在</tspan><tspan x="2072.5" dy="13.1">*稳定工作上严格执行县委、县*的指示，结合</tspan><tspan x="2072.5" dy="13.1">实际，完善了规章制度，进一步加强了对*稳</tspan><tspan x="2072.5" dy="13.1">定工作的领导，使*不断的势头得到有效遏止</tspan><tspan x="2072.5" dy="13.1">，具体材料请详见：</tspan></text></g>
<g id="w2c"><rect class="box" x="2303" y="2683.7" width="213" height="232.7"/><text class="t" x="2308.5" y="2698.7"><tspan x="2308.5">溆浦县煤炭系统拥有干部职工3800多人，其</tspan><tspan x="2308.5" dy="13.1">中在册职工1200多人，离退休1100多人，下</tspan><tspan x="2308.5" dy="13.1">岗职工1500多人。多年来，由于资源枯竭、</tspan><tspan x="2308.5" dy="13.1">开采成本高、企业欠帐多、市场竞争日趋激烈</tspan><tspan x="2308.5" dy="13.1">、企业机制不活等多种原因，导致国有煤矿相</tspan><tspan x="2308.5" dy="13.1">继停产，企业生存、职工生活极其困难。全系</tspan><tspan x="2308.5" dy="13.1">统拖*部职工工资1670万元，拖欠离退休干部</tspan><tspan x="2308.5" dy="13.1">职工应该享受的医药费和因工致残、患职业病</tspan><tspan x="2308.5" dy="13.1">药费540万元。拖欠因公死亡职工的抚恤金13</tspan><tspan x="2308.5" dy="13.1">8万元，拖欠下岗职工的生活费275万元。这</tspan><tspan x="2308.5" dy="13.1">些问题的积存，引发了大量的不稳定因素，导</tspan><tspan x="2308.5" dy="13.1">致前几年职工频繁到县**，堵县*大门，多则</tspan><tspan x="2308.5" dy="13.1">几百人，少则几十人，间月不间季，给全县人</tspan><tspan x="2308.5" dy="13.1">民形成了"煤炭系统的职工多、拖欠工资的数</tspan><tspan x="2308.5" dy="13.1">额多、**的人员多"的印象。这种情况不但给</tspan><tspan x="2308.5" dy="13.1">各级领导增加了工作压力，更严重的是影响了</tspan><tspan x="2308.5" dy="13.1">全县的社会稳定和经济发展。</tspan></text></g>

<g id="x1"><rect class="box" x="1737" y="2982.8" width="213" height="62.4"/><text class="t" x="1742.5" y="2997.8"><tspan x="1742.5">一、目的:规范入驻我车站全体司乘人员的服</tspan><tspan x="1742.5" dy="13.1">务工作,提高服务质量,兑现我站对社会的服务</tspan><tspan x="1742.5" dy="13.1">承诺,在社会上和广大旅客中树立____镇客运</tspan><tspan x="1742.5" dy="13.1">车站的良好规象和信誉。</tspan></text></g>
<g id="x2"><rect class="box" x="1737" y="3066.9" width="213" height="36.2"/><text class="t" x="1742.5" y="3081.9"><tspan x="1742.5">二、范围:车站办公室负责客运质量的监督管</tspan><tspan x="1742.5" dy="13.1">理。</tspan></text></g>
<g id="x3"><rect class="box" x="1737" y="3517" width="71" height="23.1"/><text class="t" x="1742.5" y="3532">三、服务要求</text></g>
<g id="y1"><rect class="box" x="1831" y="3124.9" width="213" height="49.3"/><text class="t" x="1836.5" y="3139.9"><tspan x="1836.5">(1)司乘人员必须严格遵守国家的政策、法令</tspan><tspan x="1836.5" dy="13.1">、法规,严格执行客运行业管理的规章制度和</tspan><tspan x="1836.5" dy="13.1">我车站的站场管理制度。</tspan></text></g>
<g id="y2"><rect class="box" x="1831" y="3196.6" width="213" height="114.8"/><text class="t" x="1836.5" y="3211.6"><tspan x="1836.5">(2)司乘人员必须严格履行车站对旅客的服务</tspan><tspan x="1836.5" dy="13.1">承诺,坚持"乘客至上,服务第一"的服务宗旨,做</tspan><tspan x="1836.5" dy="13.1">到文明经营,礼貌服务。在任何情况下要尽量</tspan><tspan x="1836.5" dy="13.1">满足旅客要求,遇事要耐心,多作解释说明,不得</tspan><tspan x="1836.5" dy="13.1">与旅客发生争吵,不得以恶劣的服务态度对待</tspan><tspan x="1836.5" dy="13.1">乘客,更不得谩骂和殴打旅客。如乘客投诉经</tspan><tspan x="1836.5" dy="13.1">调查属实,每次予以对线路车主罚款100元,情</tspan><tspan x="1836.5" dy="13.1">节严重者将解除合同,禁止入站。</tspan></text></g>
<g id="y3"><rect class="box" x="2067" y="3235.9" width="213" height="36.2"/><text class="t" x="2072.5" y="3250.9"><tspan x="2072.5">(3)凡属我车站内的工作人员均要求做好仪容整</tspan><tspan x="2072.5" dy="13.1">洁得体,违反车站着装规定者,每次罚款20元。</tspan></text></g>
<g id="y4"><rect class="box" x="1831" y="3332.4" width="213" height="36.2"/><text class="t" x="1836.5" y="3347.4"><tspan x="1836.5">(4)监督:凡进行我车站配客营运的车辆都要在</tspan><tspan x="1836.5" dy="13.1">车门上印有公司标志、单位名称及投诉电话。</tspan></text></g>
<g id="y5"><rect class="box" x="1831" y="3389.8" width="213" height="62.4"/><text class="t" x="1836.5" y="3404.8"><tspan x="1836.5">(5)对待老、弱、病、残和有需要帮助的人,要</tspan><tspan x="1836.5" dy="13.1">主动及时提供帮助,发扬助人为乐、救死扶伤</tspan><tspan x="1836.5" dy="13.1">精神,凡受到乘客表扬者,经调查属实,我站将给</tspan><tspan x="1836.5" dy="13.1">予通报表扬和奖励。</tspan></text></g>
<g id="y6"><rect class="box" x="1831" y="3474.7" width="213" height="88.6"/><text class="t" x="1836.5" y="3489.7"><tspan x="1836.5">(6)提倡文明优质服务,发扬拾金不昧的精神,若</tspan><tspan x="1836.5" dy="13.1">拾获乘客或他人财物,须立即交还失主或报车</tspan><tspan x="1836.5" dy="13.1">站办公室并办理移交手续。如有拾获遗物不上</tspan><tspan x="1836.5" dy="13.1">交者我站内工作人员,经查实,除退回财物之外,</tspan><tspan x="1836.5" dy="13.1">并按财物价值的2-5倍处以罚款,触犯刑法的送</tspan><tspan x="1836.5" dy="13.1">司法机关处理。</tspan></text></g>
<g id="y7"><rect class="box" x="1831" y="3584.5" width="213" height="141"/><text class="t" x="1836.5" y="3599.5"><tspan x="1836.5">(7)必须严格执行上级运管部门对道路运输管</tspan><tspan x="1836.5" dy="13.1">理的有关规定,确保乘客的权益。维护车站声</tspan><tspan x="1836.5" dy="13.1">誉,在我站卖票配客经营的车辆,如发生中途甩</tspan><tspan x="1836.5" dy="13.1">客或将旅客移交他人运送,凡被乘客投诉或被*</tspan><tspan x="1836.5" dy="13.1">和运管部门查处的司机,公司将视其情节严重,</tspan><tspan x="1836.5" dy="13.1">责成当事人停班整改,除按上级有关规定处理</tspan><tspan x="1836.5" dy="13.1">外,另处以500-3000元罚款,同时要求线路车</tspan><tspan x="1836.5" dy="13.1">主作出书面保证,经我站同意后才能恢复营运</tspan><tspan x="1836.5" dy="13.1">。对不能限期改正的我站可以另行引进线路经</tspan><tspan x="1836.5" dy="13.1">营。</tspan></text></g>
<g id="y8"><rect class="box" x="1831" y="3746.6" width="213" height="114.8"/><text class="t" x="1836.5" y="3761.6"><tspan x="1836.5">(8)发生恶性服务违章事故,手段恶劣影响极坏,</tspan><tspan x="1836.5" dy="13.1">对我站形象、信誉造成严重损害的,以及一年</tspan><tspan x="1836.5" dy="13.1">内被运管及其稽查执法部门发现违规达4次的</tspan><tspan x="1836.5" dy="13.1">车辆,由我站向线路车主发出违规处罚通知书,</tspan><tspan x="1836.5" dy="13.1">并可对该线路进行停班整顿。经教育并整改后</tspan><tspan x="1836.5" dy="13.1">方可恢复营运。如一年内违规5次的车辆,公司</tspan><tspan x="1836.5" dy="13.1">即收回该线路入站资格,直接取消其与车站的</tspan><tspan x="1836.5" dy="13.1">合同并可不予退还进站押金。</tspan></text></g>
<g id="y9"><rect class="box" x="1831" y="3882.9" width="213" height="49.3"/><text class="t" x="1836.5" y="3897.9"><tspan x="1836.5">(9) 车站办公室或调度室接到投诉时,要按规定</tspan><tspan x="1836.5" dy="13.1">程序了解事实,做好记录,及时向站领导反映,跟</tspan><tspan x="1836.5" dy="13.1">踪处理情况,并及时将处理结果通知投诉者。</tspan></text></g>

<g id="watermarks">
<text class="wm" x="646" y="560" transform="rotate(-30 646 520)">树图 shutu.cn</text>
<text class="wm" x="1912" y="560" transform="rotate(-30 1912 520)">树图 shutu.cn</text>
<text class="wm" x="646" y="1565" transform="rotate(-30 646 1525)">树图 shutu.cn</text>
<text class="wm" x="1912" y="1565" transform="rotate(-30 1912 1525)">树图 shutu.cn</text>
<text class="wm" x="646" y="2560" transform="rotate(-30 646 2520)">树图 shutu.cn</text>
<text class="wm" x="1912" y="2560" transform="rotate(-30 1912 2520)">树图 shutu.cn</text>
<text class="wm" x="646" y="3570" transform="rotate(-30 646 3530)">树图 shutu.cn</text>
<text class="wm" x="1912" y="3570" transform="rotate(-30 1912 3530)">树图 shutu.cn</text>
</g>
</svg>
